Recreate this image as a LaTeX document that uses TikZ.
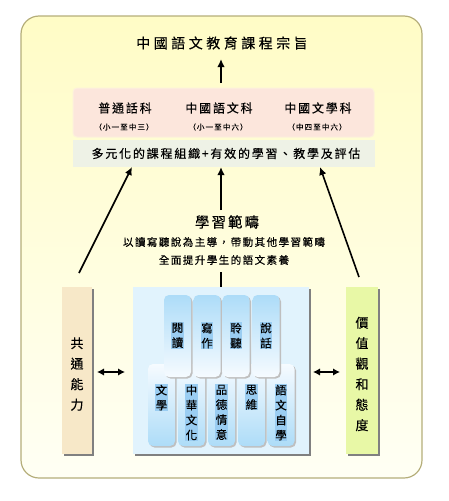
\documentclass[tikz,border=0pt]{standalone}
\usepackage{fontspec}
\newfontfamily\cjk[FakeBold=0.3]{Noto Sans CJK TC}
\usetikzlibrary{arrows.meta,shadows}
\definecolor{outline}{HTML}{B5AE7A}
\definecolor{yelA}{HTML}{FFFCC6}
\definecolor{yelB}{HTML}{FFFFF4}
\definecolor{pinkfill}{HTML}{FCE6DC}
\definecolor{pinkline}{HTML}{FDF1DC}
\definecolor{grayfill}{HTML}{EEF2E6}
\definecolor{beige}{HTML}{F7E8C8}
\definecolor{lime}{HTML}{E8F8A6}
\definecolor{panel}{HTML}{E1F3FD}
\definecolor{colblue}{HTML}{ADDCF8}
\definecolor{colwhite}{HTML}{F6FBFF}
\definecolor{hlblue}{HTML}{9ACDF2}
\newcommand\colfont{\cjk\fontsize{11.5}{15}\selectfont}
\newcommand\sidefont{\cjk\fontsize{13}{20.5}\selectfont}
\begin{document}
\begin{tikzpicture}[x=1pt,y=-1pt,
  outer/.style={draw=outline, line width=1.2pt, rounded corners=18pt, top color=yelA, bottom color=yelB},
  tcol/.style={minimum width=27pt, minimum height=82pt, rounded corners=5pt, inner sep=0pt,
    top color=colblue, bottom color=colwhite,
    drop shadow={shadow xshift=1.5pt, shadow yshift=-1.5pt, fill=black!25, opacity=1}},
  bcol/.style={minimum width=27pt, minimum height=82pt, rounded corners=5pt, inner sep=0pt,
    top color=colwhite, bottom color=colblue,
    drop shadow={shadow xshift=1.5pt, shadow yshift=-1.5pt, fill=black!25, opacity=1}},
  hl/.style={fill=hlblue, inner sep=0.6pt, align=center, font=\colfont, anchor=north},
  sidebox/.style={minimum height=167pt, inner sep=0pt,
    drop shadow={shadow xshift=2pt, shadow yshift=-2pt, fill=black!50, opacity=1}},
  sidetext/.style={align=center, font=\sidefont, inner sep=0pt},
  arr/.style={-{Latex[length=8pt,width=7.5pt]}, line width=1.6pt},
  darr/.style={{Latex[length=7pt,width=7.5pt]}-{Latex[length=7pt,width=7.5pt]}, line width=1.6pt},
]
\useasboundingbox (0,0) rectangle (449,501);
% outer frame
\node[outer, minimum width=401pt, minimum height=462pt, inner sep=0pt] (frame) at (221.5,247) {};
% title
\node[font=\cjk\fontsize{14}{16}\selectfont\addfontfeatures{LetterSpace=25}] (title) at (222,43) {中國語文教育課程宗旨};
% pink box
\node[fill=pinkfill, draw=pinkline, line width=1pt, rounded corners=4pt, minimum width=301pt, minimum height=49pt, inner sep=0pt] (pink) at (223.5,112.5) {};
\node[font=\cjk\fontsize{12}{14}\selectfont\addfontfeatures{LetterSpace=15}] (s1) at (125,108) {普通話科};
\node[font=\cjk\fontsize{12}{14}\selectfont\addfontfeatures{LetterSpace=15}] (s2) at (219,108) {中國語文科};
\node[font=\cjk\fontsize{12}{14}\selectfont\addfontfeatures{LetterSpace=15}] (s3) at (318,108) {中國文學科};
\node[font=\cjk\fontsize{7.5}{9}\selectfont\addfontfeatures{LetterSpace=15}] (g1) at (124,127) {（小一至中三）};
\node[font=\cjk\fontsize{7.5}{9}\selectfont\addfontfeatures{LetterSpace=15}] (g2) at (218,127) {（小一至中六）};
\node[font=\cjk\fontsize{7.5}{9}\selectfont\addfontfeatures{LetterSpace=15}] (g3) at (317,127) {（中四至中六）};
% strategy box
\node[fill=grayfill, minimum width=302pt, minimum height=27pt, inner sep=0pt] (strat) at (224,153.5) {};
\node[font=\cjk\fontsize{12}{14}\selectfont\addfontfeatures{LetterSpace=15}] (stext) at (226,153.5) {多元化的課程組織+有效的學習、教學及評估};
% learning strands text
\node[font=\cjk\fontsize{14.5}{16}\selectfont\addfontfeatures{LetterSpace=14}] (lt) at (227,222) {學習範疇};
\node[font=\cjk\fontsize{10.5}{12}\selectfont\addfontfeatures{LetterSpace=14}] (l1) at (224,242) {以讀寫聽說為主導，帶動其他學習範疇};
\node[font=\cjk\fontsize{10.5}{12}\selectfont\addfontfeatures{LetterSpace=14}] (l2) at (224,260) {全面提升學生的語文素養};
% side boxes
\node[sidebox, fill=beige, minimum width=30pt] (left) at (77,370.5) {};
\node[sidetext] (lefttext) at (77,374) {共\\通\\能\\力};
\node[sidebox, fill=lime, minimum width=32pt] (right) at (362,370.5) {};
\node[sidetext] (righttext) at (362,374) {價\\值\\觀\\和\\態\\度};
% centre panel
\node[sidebox, fill=panel, minimum width=176pt] (panel) at (221,370.5) {};
% bottom row columns
\node[bcol] (b1) at (161.5,405) {};
\node[bcol] (b2) at (191.5,405) {};
\node[bcol] (b3) at (221.5,405) {};
\node[bcol] (b4) at (251.5,405) {};
\node[bcol] (b5) at (281,405) {};
% top row columns
\node[tcol] (t1) at (177.5,336) {};
\node[tcol] (t2) at (207,336) {};
\node[tcol] (t3) at (236,336) {};
\node[tcol] (t4) at (266,336) {};
% column texts
\node[hl] (tt1) at (177.5,322) {閱\\讀};
\node[hl] (tt2) at (207,322) {寫\\作};
\node[hl] (tt3) at (236,322) {聆\\聽};
\node[hl] (tt4) at (266,322) {說\\話};
\node[hl] (bt1) at (161.5,384) {文\\學};
\node[hl] (bt2) at (191.5,384) {中\\華\\文\\化};
\node[hl] (bt3) at (221.5,384) {品\\德\\情\\意};
\node[hl] (bt4) at (251.5,384) {思\\維};
\node[hl] (bt5) at (281,384) {語\\文\\自\\學};
% connectors
\coordinate (ta) at (221,83);
\coordinate (tb) at (221,59);
\draw[arr] (ta) -- (tb);
\coordinate (la) at (79,273);
\coordinate (lb) at (132,167);
\draw[arr] (la) -- (lb);
\coordinate (ma) at (221,210);
\coordinate (mb) at (221,167);
\draw[arr] (ma) -- (mb);
\coordinate (ra) at (359,277);
\coordinate (rb) at (320,167);
\draw[arr] (ra) -- (rb);
\coordinate (pc) at (221,272);
\draw[line width=1.6pt] (panel.north) -- (pc);
\coordinate (dl1) at (97,372);
\coordinate (dl2) at (125,372);
\draw[darr] (dl1) -- (dl2);
\coordinate (dr1) at (313,372);
\coordinate (dr2) at (340,372);
\draw[darr] (dr1) -- (dr2);
\end{tikzpicture}
\end{document}
